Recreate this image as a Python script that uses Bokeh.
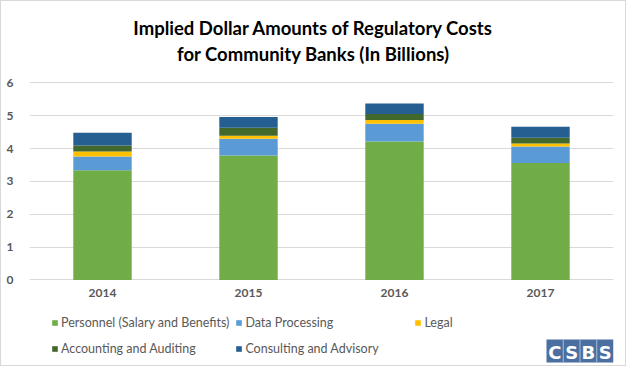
from bokeh.plotting import figure
from bokeh.models import (FactorRange, Legend, LegendItem, Label, BoxAnnotation,
                          FixedTicker, ColumnDataSource, CategoricalAxis)
from bokeh.embed import file_html
from bokeh.resources import INLINE

# ---- data ----
years = ["2014", "2015", "2016", "2017"]
series = ["Personnel (Salary and Benefits)", "Data Processing", "Legal",
          "Accounting and Auditing", "Consulting and Advisory"]
personnel = [3.34, 3.79, 4.21, 3.56]
data_processing = [0.42, 0.51, 0.54, 0.50]
legal = [0.15, 0.09, 0.12, 0.09]
accounting = [0.18, 0.24, 0.18, 0.18]
consulting = [0.39, 0.33, 0.32, 0.33]
y_ticks = [0, 1, 2, 3, 4, 5, 6]
title_lines = ["Implied Dollar Amounts of Regulatory Costs",
               "for Community Banks (In Billions)"]
logo_letters = ["C", "S", "B", "S"]

colors = ["#70AD47", "#5B9BD5", "#FFC000", "#43682B", "#255E91"]
keys = ["personnel", "data", "legal", "accounting", "consulting"]

source = ColumnDataSource(dict(years=years, personnel=personnel, data=data_processing,
                               legal=legal, accounting=accounting, consulting=consulting))

FONT = "Lato"
GREY = "#595959"

W, H = 626, 366
# frame covers the full canvas height; value axis 0..6 spans canvas y 278.4 .. 81.3
px_per_unit = (278.4 - 81.3) / 6
y_lo = -(H - 278.4) / px_per_unit
y_hi = 6 + 81.3 / px_per_unit

p = figure(x_range=FactorRange(*years, range_padding=0), y_range=(y_lo, y_hi),
           width=W, height=H, output_backend="svg", toolbar_location=None,
           x_axis_location=None,
           min_border_left=28, min_border_right=14, min_border_top=0,
           min_border_bottom=0, outline_line_color=None)
p.styles = {"border": "1px solid #d9d9d9"}

renderers = p.vbar_stack(keys, x="years", width=0.4, color=colors, source=source,
                         line_color=None)

# axes
p.yaxis.ticker = FixedTicker(ticks=y_ticks)
p.yaxis.axis_line_color = None
p.yaxis.major_tick_line_color = None
p.yaxis.minor_tick_line_color = None
p.yaxis.major_label_standoff = 10
p.yaxis.major_label_text_font = FONT
p.yaxis.major_label_text_font_size = "12px"
p.yaxis.major_label_text_font_style = "bold"
p.yaxis.major_label_text_color = GREY

xaxis = CategoricalAxis(fixed_location=0, axis_line_color=None,
                        major_tick_line_color=None, minor_tick_line_color=None,
                        major_label_standoff=3, major_label_text_font=FONT,
                        major_label_text_font_size="12px",
                        major_label_text_font_style="bold",
                        major_label_text_color=GREY)
p.add_layout(xaxis, "below")

p.xgrid.grid_line_color = None
p.ygrid.grid_line_color = "#d9d9d9"
p.ygrid.grid_line_width = 1
p.ygrid.ticker = FixedTicker(ticks=y_ticks)

# legend
items = [LegendItem(label=s, renderers=[r]) for s, r in zip(series, renderers)]
legend = Legend(items=items, location=(22, 9), orientation="horizontal", nrows=2,
                glyph_width=7, glyph_height=7, label_standoff=3, label_width=163,
                label_height=20, spacing=6, padding=0, margin=0,
                border_line_color=None, background_fill_alpha=0,
                label_text_font=FONT, label_text_font_size="12.5px",
                label_text_color=GREY)
p.add_layout(legend, "center")

# title
for i, t in enumerate(title_lines):
    p.add_layout(Label(x=311, y=25 + i * 26, x_units="canvas", y_units="canvas", text=t,
                       text_align="center", text_baseline="middle",
                       text_font=FONT, text_font_size="18.5px", text_font_style="bold",
                       text_color="#000000"))

# logo
lx0, lx1, ly0, ly1 = 544, 611, 337, 360
p.add_layout(BoxAnnotation(left=lx0, right=lx1, top=ly0, bottom=ly1,
                           left_units="canvas", right_units="canvas",
                           top_units="canvas", bottom_units="canvas",
                           fill_color="#4A6FA0", fill_alpha=1, line_color=None))
cw = (lx1 - lx0) / 4
for i in range(1, 4):
    xs = lx0 + i * cw
    p.add_layout(BoxAnnotation(left=xs - 0.5, right=xs + 0.5, top=ly0, bottom=ly1,
                               left_units="canvas", right_units="canvas",
                               top_units="canvas", bottom_units="canvas",
                               fill_color="#A9BCD6", fill_alpha=1, line_color=None))
for i, ch in enumerate(logo_letters):
    p.add_layout(Label(x=lx0 + (i + 0.5) * cw, y=(ly0 + ly1) / 2 + 1, x_units="canvas",
                       y_units="canvas", text=ch, text_align="center",
                       text_baseline="middle", text_font="DejaVu Sans",
                       text_font_size="18px", text_font_style="bold",
                       text_color="#FFFFFF"))

open("out.html", "w").write(file_html(p, INLINE))
